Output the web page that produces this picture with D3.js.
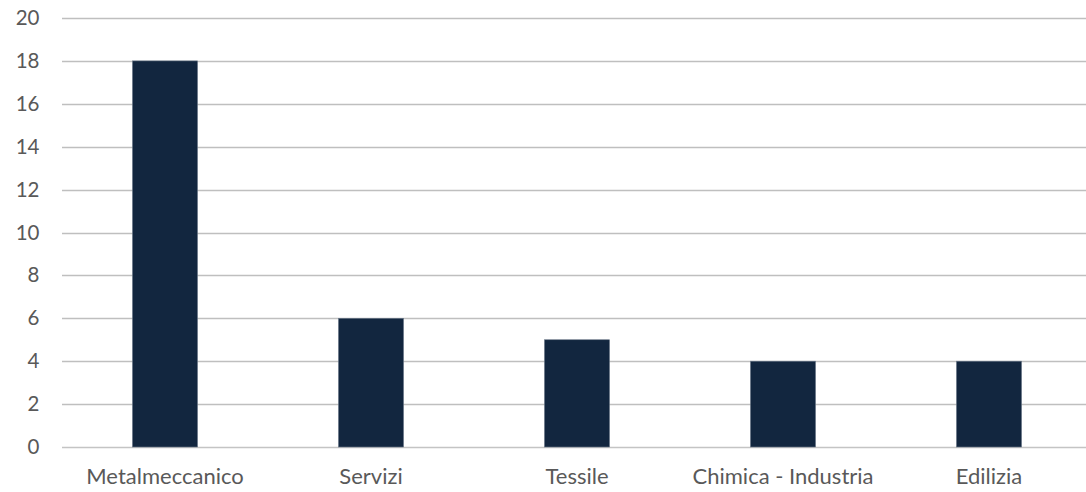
<!DOCTYPE html>
<html>
<head>
<meta charset="utf-8">
<script src="https://cdn.jsdelivr.net/npm/d3@7/dist/d3.min.js"></script>
<style>
  html, body { margin: 0; padding: 0; background: #fff; }
  svg { display: block; }
</style>
</head>
<body>
<svg id="chart" width="1086" height="492"></svg>
<script>
const categories = ["Metalmeccanico", "Servizi", "Tessile", "Chimica - Industria", "Edilizia"];
const values = [18, 6, 5, 4, 4];
const yTicks = [0, 2, 4, 6, 8, 10, 12, 14, 16, 18, 20];

const svg = d3.select("#chart");
const mLeft = 62, mRight = 1092, mTop = 18, mBottom = 447;

const x = d3.scaleBand().domain(categories).range([mLeft, mRight]).paddingInner(0.684).paddingOuter(0.342);
const y = d3.scaleLinear().domain([0, 20]).range([mBottom, mTop]);

// gridlines
svg.append("g").selectAll("line").data(yTicks).join("line")
  .attr("x1", mLeft).attr("x2", mRight)
  .attr("y1", d => Math.round(y(d)) + 0.5).attr("y2", d => Math.round(y(d)) + 0.5)
  .attr("stroke", d => d === 0 ? "#c4c4c4" : "#bfbfbf").attr("stroke-width", d => d === 0 ? 1.5 : 1.3);

// y axis labels
const yAxis = d3.axisLeft(y).tickValues(yTicks).tickSize(0).tickPadding(0);
const gy = svg.append("g").attr("transform", "translate(39.5,0)").call(yAxis);
gy.select(".domain").remove();
gy.selectAll("text").attr("font-family", "Lato, 'Open Sans', sans-serif").attr("font-size", 20.5).attr("fill", "#595959");

// bars
svg.append("g").selectAll("rect").data(values).join("rect")
  .attr("x", (d, i) => x(categories[i]))
  .attr("width", x.bandwidth())
  .attr("y", d => y(d))
  .attr("height", d => y(0) - y(d))
  .attr("fill", "#12263f")
  .attr("stroke", "#6b7889").attr("stroke-width", 0.6);

// x axis labels
const xAxis = d3.axisBottom(x).tickSize(0).tickPadding(0);
const gx = svg.append("g").attr("transform", "translate(0,468)").call(xAxis);
gx.select(".domain").remove();
gx.selectAll("text").attr("font-family", "Lato, 'Open Sans', sans-serif").attr("font-size", 22).attr("fill", "#595959");
</script>
</body>
</html>
